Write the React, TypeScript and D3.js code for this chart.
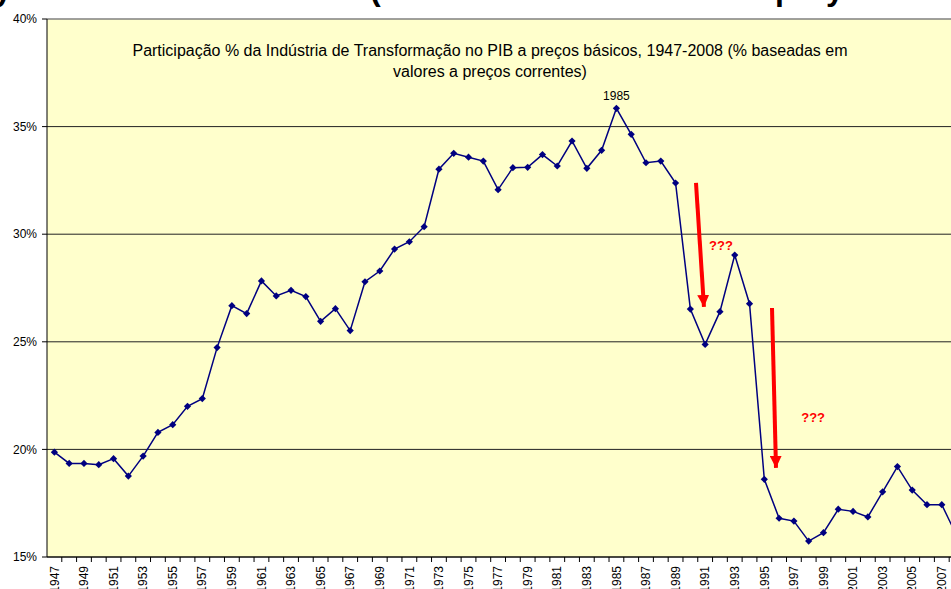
import React from "react";
import * as d3 from "d3";

const years: number[] = d3.range(1947, 2009);
const shares: number[] = [
  19.87, 19.35, 19.35, 19.29, 19.57, 18.76, 19.69, 20.79, 21.15, 22.0,
  22.36, 24.73, 26.68, 26.31, 27.83, 27.13, 27.39, 27.1, 25.95, 26.54,
  25.52, 27.79, 28.29, 29.31, 29.65, 30.35, 33.02, 33.76, 33.58, 33.4,
  32.07, 33.09, 33.11, 33.7, 33.17, 34.33, 33.06, 33.9, 35.85, 34.64,
  33.32, 33.4, 32.38, 26.52, 24.88, 26.4, 29.03, 26.77, 18.61, 16.8,
  16.67, 15.74, 16.13, 17.22, 17.12, 16.86, 18.03, 19.2, 18.11, 17.43,
  17.43, 16.0,
];
const yTicks: number[] = [15, 20, 25, 30, 35, 40];
const titleLines: string[] = [
  "Participação % da Indústria de Transformação no PIB a preços básicos, 1947-2008 (% baseadas em",
  "valores a preços correntes)",
];
const peakLabelYear = 1985;
const arrowsData = [
  { x0: 1990.38, y0: 32.38, x1: 1990.92, y1: 26.62 },
  { x0: 1995.52, y0: 26.57, x1: 1995.79, y1: 19.14 },
];
const questionMarks = [
  { x: 1992.07, y: 29.27, text: "???" },
  { x: 1998.3, y: 21.27, text: "???" },
];
const cutTitleGlyphs = [
  { x: -6, text: "y" },
  { x: 370, text: "(" },
  { x: 775, text: "p" },
  { x: 826, text: "y" },
];

const W = 951;
const H = 589;
const left = 47;
const top = 19;
const bottom = 557;
const step = 14.79;

export default function App() {
  const x = d3
    .scaleBand<string>()
    .domain(years.map(String))
    .range([left, left + step * years.length])
    .paddingInner(0)
    .paddingOuter(0);
  const bw = x.bandwidth();
  const cx = (yr: number) => (x(String(yr)) as number) + bw / 2;
  const xf = d3
    .scaleLinear()
    .domain([years[0], years[years.length - 1]])
    .range([cx(years[0]), cx(years[years.length - 1])]);
  const y = d3.scaleLinear().domain([15, 40]).range([bottom, top]);

  const line = d3
    .line<number>()
    .x((_, i) => cx(years[i]))
    .y((d) => y(d));
  const sq = d3.symbol().type(d3.symbolSquare).size(26)();
  const font = "Arial, 'Liberation Sans', sans-serif";
  const plotRight = left + step * years.length;
  const peakIdx = years.indexOf(peakLabelYear);

  return (
    <svg
      width={W}
      height={H}
      style={{ position: "absolute", left: 0, top: 0, background: "#fff" }}
      fontFamily={font}
    >
      <defs>
        <marker
          id="ah"
          viewBox="0 0 10 10"
          refX="10"
          refY="5"
          markerWidth="12"
          markerHeight="12"
          markerUnits="userSpaceOnUse"
          orient="auto"
        >
          <path d="M0,0 L10,5 L0,10 z" fill="#FF0000" />
        </marker>
      </defs>
      {/* partially visible slide title above the chart */}
      <text y={0} fontSize={32} fontWeight="bold" fill="#000">
        {cutTitleGlyphs.map((g, i) => (
          <tspan key={i} x={g.x}>
            {g.text}
          </tspan>
        ))}
      </text>
      <rect x={left} y={top} width={plotRight - left} height={bottom - top} fill="#FFFFCC" />
      {yTicks.map((t) => (
        <g key={t}>
          <line
            x1={left}
            x2={plotRight}
            y1={y(t)}
            y2={y(t)}
            stroke={t === 40 ? "#808080" : "#222"}
            strokeWidth={t === 40 ? 1.5 : 1}
          />
          <line x1={left - 5} x2={left} y1={y(t)} y2={y(t)} stroke="#000" />
          <text x={37} y={y(t)} dy="0.35em" textAnchor="end" fontSize={12} fill="#000">
            {t}%
          </text>
        </g>
      ))}
      <line x1={left} x2={left} y1={top} y2={bottom} stroke="#000" />
      <line x1={left} x2={plotRight} y1={bottom} y2={bottom} stroke="#000" />
      {years.map((yr) => (
        <line
          key={"t" + yr}
          x1={(x(String(yr)) as number) + bw}
          x2={(x(String(yr)) as number) + bw}
          y1={bottom}
          y2={bottom + 5}
          stroke="#000"
        />
      ))}
      {years
        .filter((yr) => yr % 2 === 1)
        .map((yr) => (
          <text
            key={"l" + yr}
            transform={`translate(${cx(yr)},${bottom + 9}) rotate(-90)`}
            dy="0.35em"
            textAnchor="end"
            fontSize={12}
            fill="#000"
          >
            {yr}
          </text>
        ))}
      {titleLines.map((t, i) => (
        <text key={i} x={490} y={56 + i * 21} textAnchor="middle" fontSize={16} fill="#000">
          {t}
        </text>
      ))}
      <path d={line(shares) || ""} fill="none" stroke="#000080" strokeWidth={1.5} />
      {shares.map((v, i) => (
        <path
          key={"m" + i}
          d={sq || ""}
          transform={`translate(${cx(years[i])},${y(v)}) rotate(45)`}
          fill="#000080"
        />
      ))}
      <text
        x={cx(peakLabelYear)}
        y={y(shares[peakIdx]) - 8}
        textAnchor="middle"
        fontSize={12}
        fill="#000"
      >
        {peakLabelYear}
      </text>
      {arrowsData.map((a, i) => (
        <line
          key={"a" + i}
          x1={xf(a.x0)}
          y1={y(a.y0)}
          x2={xf(a.x1)}
          y2={y(a.y1)}
          stroke="#FF0000"
          strokeWidth={4}
          markerEnd="url(#ah)"
        />
      ))}
      {questionMarks.map((q, i) => (
        <text
          key={"q" + i}
          x={xf(q.x)}
          y={y(q.y)}
          textAnchor="middle"
          fontSize={13}
          fontWeight="bold"
          fill="#FF0000"
        >
          {q.text}
        </text>
      ))}
    </svg>
  );
}
